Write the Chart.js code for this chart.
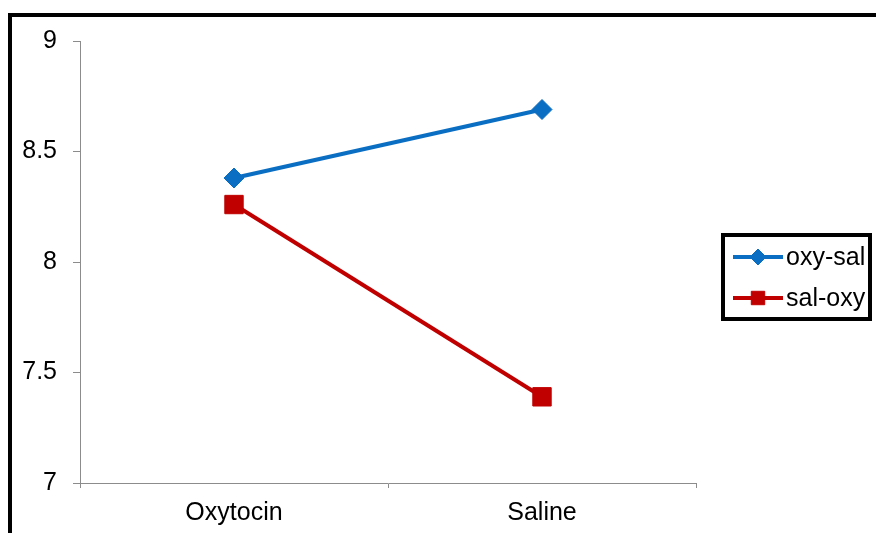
<!DOCTYPE html>
<html>
<head>
<meta charset="utf-8">
<script src="https://cdn.jsdelivr.net/npm/chart.js@4/dist/chart.umd.min.js"></script>
<style>
  html, body { margin: 0; padding: 0; background: #fff; }
  #wrap { width: 876px; height: 533px; position: relative; }
</style>
</head>
<body>
<div id="wrap"><canvas id="c" width="876" height="533"></canvas></div>
<script>
// Conditions on the x axis
const categories = ['Oxytocin', 'Saline'];
// Group means per session order
const oxySal = [8.38, 8.69];
const salOxy = [8.26, 7.39];
const seriesNames = ['oxy-sal', 'sal-oxy'];
// Value axis ticks
const yTicks = [7, 7.5, 8, 8.5, 9];

const FONT = "'Liberation Sans', Arial, sans-serif";
const BLUE = '#0A6EC2';
const RED = '#C00000';

// Outer frame: thick top and left edges
const framePlugin = {
  id: 'frame',
  beforeDraw(chart) {
    const ctx = chart.ctx;
    ctx.save();
    ctx.fillStyle = '#fff';
    ctx.fillRect(0, 0, chart.width, chart.height);
    ctx.fillStyle = '#000';
    ctx.fillRect(8, 13, chart.width - 8, 4);
    ctx.fillRect(8, 13, 4, chart.height - 13);
    ctx.restore();
  }
};

// Boxed legend with line + marker samples
const boxLegend = {
  id: 'boxLegend',
  afterDraw(chart) {
    const ctx = chart.ctx;
    ctx.save();
    ctx.strokeStyle = '#000';
    ctx.lineWidth = 4;
    ctx.strokeRect(723, 235, 147, 84);
    const rows = [257, 298];
    chart.data.datasets.forEach((ds, i) => {
      const y = rows[i];
      ctx.strokeStyle = ds.borderColor;
      ctx.lineWidth = 4;
      ctx.beginPath();
      ctx.moveTo(733, y);
      ctx.lineTo(783, y);
      ctx.stroke();
      ctx.fillStyle = ds.backgroundColor;
      ctx.strokeStyle = ds.borderColor;
      ctx.lineWidth = 1;
      Chart.helpers.drawPoint(ctx, {
        pointStyle: ds.pointStyle,
        rotation: 0,
        borderWidth: 1,
        radius: i === 0 ? 8 : 9.5
      }, 758, y);
      ctx.fillStyle = '#000';
      ctx.font = '25px ' + FONT;
      ctx.textBaseline = 'middle';
      ctx.textAlign = 'left';
      ctx.fillText(ds.label, 786, y + 1);
    });
    ctx.restore();
  }
};

new Chart(document.getElementById('c'), {
  type: 'line',
  data: {
    labels: categories,
    datasets: [
      {
        label: seriesNames[0],
        data: oxySal,
        borderColor: BLUE,
        backgroundColor: BLUE,
        borderWidth: 4,
        pointStyle: 'rectRot',
        pointRadius: 10,
        pointBorderWidth: 1,
        tension: 0
      },
      {
        label: seriesNames[1],
        data: salOxy,
        borderColor: RED,
        backgroundColor: RED,
        borderWidth: 4,
        pointStyle: 'rect',
        pointRadius: 13,
        pointBorderWidth: 1,
        tension: 0
      }
    ]
  },
  options: {
    responsive: false,
    animation: false,
    devicePixelRatio: 1,
    layout: { padding: { left: 0, right: 180, top: 41, bottom: 0 } },
    plugins: {
      legend: { display: false },
      tooltip: { enabled: false }
    },
    scales: {
      x: {
        type: 'category',
        offset: true,
        grid: {
          offset: true,
          drawOnChartArea: false,
          drawTicks: true,
          tickLength: 5,
          color: '#8c8c8c',
          lineWidth: 1
        },
        border: { color: '#8c8c8c', width: 1 },
        ticks: {
          color: '#000',
          font: { family: FONT, size: 25 },
          padding: 10,
          maxRotation: 0
        },
        afterFit(scale) { scale.height = 50; }
      },
      y: {
        min: 7,
        max: 9,
        afterBuildTicks(scale) {
          scale.ticks = yTicks.map(v => ({ value: v }));
        },
        grid: {
          drawOnChartArea: false,
          drawTicks: true,
          tickLength: 7,
          color: '#8c8c8c',
          lineWidth: 1
        },
        border: { color: '#8c8c8c', width: 1 },
        ticks: {
          color: '#000',
          font: { family: FONT, size: 25 },
          padding: 16,
          callback: v => String(v)
        },
        afterFit(scale) { scale.width = 80; }
      }
    }
  },
  plugins: [framePlugin, boxLegend]
});
</script>
</body>
</html>
